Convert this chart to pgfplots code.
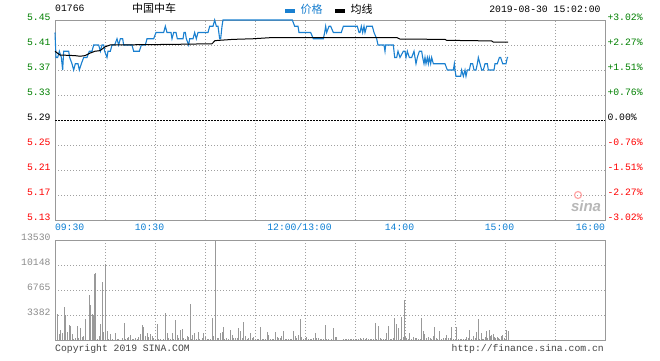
\documentclass[border=0pt]{standalone}
\usepackage{pgfplots}
\pgfplotsset{compat=1.18}
\usepackage{fontspec}
\setmainfont{Liberation Mono}
\newfontfamily\cjk{Noto Sans CJK SC}
\newfontfamily\sansf{Liberation Sans}
\definecolor{pblue}{HTML}{1A80D0}
\definecolor{tblue}{HTML}{0A7ED4}
\definecolor{pgreen}{HTML}{008000}
\definecolor{pred}{HTML}{FF0000}
\definecolor{framec}{HTML}{999999}
\definecolor{gridc}{HTML}{A0A0A0}
\definecolor{volc}{HTML}{999999}
\definecolor{vlab}{HTML}{8C8C8C}
\definecolor{copyc}{HTML}{444444}
\newcommand{\tf}{\fontsize{9.75}{11}\selectfont}
\pgfplotsset{
  chartbase/.style={
    scale only axis, width=550pt, anchor=south west,
    xmin=0, xmax=330,
    axis line style={framec, line width=1pt},
    major tick length=0pt, minor tick length=0pt,
    grid=both,
    major grid style={gridc, line width=0.8pt, dash pattern=on 1pt off 2pt},
    minor grid style={gridc, line width=0.8pt, dash pattern=on 1pt off 2pt},
    xtick={0,60,150,210,270,330},
    minor xtick={30,90,120,180,240,300},
    tick label style={font=\tf, inner sep=0pt},
    yticklabel style={anchor=base east, xshift=-4.3pt, yshift=-0.5pt},
    scaled y ticks=false,
    clip=false,
  }
}
\begin{document}
\begin{tikzpicture}
\useasboundingbox (0,0) rectangle (660pt,360pt);
\fill[white] (0,0) rectangle (660pt,360pt);
% price panel
\begin{axis}[chartbase, at={(55pt,140pt)}, height=200pt,
  ymin=5.13, ymax=5.45,
  ytick={5.13,5.17,5.21,5.25,5.29,5.33,5.37,5.41,5.45},
  yticklabels={\textcolor{pred}{5.13},\textcolor{pred}{5.17},\textcolor{pred}{5.21},\textcolor{pred}{5.25},5.29,\textcolor{pgreen}{5.33},\textcolor{pgreen}{5.37},\textcolor{pgreen}{5.41},\textcolor{pgreen}{5.45}},
  xticklabels={\makebox[0pt][l]{09:30},\makebox[0pt]{10:30\hspace{11pt}},\makebox[0pt]{12:00/13:00\hspace{11pt}},\makebox[0pt]{14:00\hspace{11pt}},\makebox[0pt]{15:00\hspace{11pt}},\makebox[0pt][r]{16:00}},
  xticklabel style={anchor=base, yshift=-10.5pt, text=tblue},
]
\addplot[black, line width=0.9pt, dash pattern=on 2pt off 1pt, no marks] coordinates {(0,5.29) (330,5.29)};
\addplot[pblue, line width=1.1pt, no marks] coordinates {
(0,5.43) (0.6,5.39) (1.6,5.39) (2.6,5.40) (3.8,5.39) (4.6,5.37) (5.2,5.40) (8.2,5.40) (8.8,5.39) (10.2,5.38) (11.2,5.37) (12.2,5.38) (13.8,5.38) (14.6,5.37) (15.8,5.38) (17.2,5.39) (19.2,5.39) (20.6,5.40) (22.2,5.40) (23.2,5.41) (26.2,5.41) (27.2,5.40) (28.2,5.41) (29.2,5.41) (29.8,5.40) (31.2,5.39) (31.8,5.40) (33.2,5.40) (34.2,5.41) (35.8,5.41) (37.2,5.42) (38.2,5.41) (39.2,5.42) (40.6,5.42) (41.2,5.41) (46.2,5.41) (47.2,5.40) (50.6,5.40) (51.8,5.41) (54.2,5.41) (55.2,5.42) (59.2,5.42) (60.6,5.43) (65.2,5.43) (66.2,5.44) (67.2,5.43) (69.6,5.43) (70.2,5.42) (71.2,5.43) (72.6,5.43) (73.4,5.42) (76.8,5.42) (77.4,5.43) (78.2,5.43) (78.8,5.42) (80.2,5.41) (80.8,5.42) (82.8,5.42) (83.8,5.43) (84.8,5.42) (85.8,5.43) (91.8,5.43) (92.8,5.44) (94.8,5.44) (95.8,5.45) (96.8,5.44) (97.8,5.44) (98.8,5.42) (99.4,5.42) (100.2,5.44) (100.8,5.45) (142.4,5.45) (143.8,5.44) (145.8,5.44) (146.4,5.43) (153.4,5.43) (155,5.42) (161,5.42) (161.8,5.43) (162.4,5.44) (163,5.43) (164.4,5.44) (165.4,5.44) (167,5.43) (171.8,5.43) (173,5.44) (181.4,5.44) (182.4,5.43) (183,5.43) (183.8,5.44) (184.6,5.43) (185.4,5.44) (186,5.43) (187,5.44) (190.4,5.44) (191.4,5.43) (193,5.42) (193.8,5.41) (197.4,5.41) (198,5.40) (198.4,5.41) (203,5.41) (203.8,5.39) (205,5.39) (205.8,5.40) (207,5.39) (209,5.40) (210,5.40) (210.6,5.39) (211.4,5.40) (212.6,5.39) (214,5.39) (215.4,5.40) (216,5.39) (216.6,5.38) (217.4,5.39) (218.6,5.40) (220,5.40) (220.6,5.39) (221.4,5.38) (222,5.39) (222.6,5.38) (223.4,5.39) (224,5.38) (224.6,5.39) (225.4,5.38) (226,5.39) (227,5.38) (234,5.38) (235.4,5.37) (239,5.37) (239.6,5.38) (240,5.37) (240.6,5.36) (243.4,5.36) (244,5.37) (245,5.36) (246,5.37) (246.6,5.36) (247.4,5.37) (248.6,5.37) (249.4,5.38) (250.6,5.38) (251.4,5.37) (252.6,5.37) (253.4,5.38) (254,5.39) (255,5.38) (256,5.37) (257,5.37) (258,5.38) (259.4,5.38) (260,5.37) (263.4,5.37) (264,5.38) (265.4,5.38) (266.6,5.39) (267.4,5.39) (268.6,5.38) (270.6,5.38) (271.4,5.39) (271.8,5.39)
};
\addplot[black, line width=1pt, no marks] coordinates {
(0,5.400) (1,5.398) (3,5.394) (12,5.393) (15,5.392) (18,5.393) (21,5.397) (24,5.400) (27,5.401) (30,5.407) (33,5.410) (70.8,5.411) (94.2,5.412) (96,5.417) (106.8,5.419) (118.8,5.420) (130.8,5.422) (205,5.422) (207,5.4195) (234,5.419) (235,5.4175) (262,5.4165) (263,5.4146) (271.8,5.4146)
};
\end{axis}
% right percent labels
\begin{axis}[scale only axis, width=550pt, height=200pt, anchor=south west, at={(55pt,140pt)},
  xmin=0, xmax=330, ymin=5.13, ymax=5.45, axis line style={draw=none},
  xtick=\empty, major tick length=0pt,
  ytick={5.13,5.17,5.21,5.25,5.29,5.33,5.37,5.41,5.45},
  yticklabel pos=right,
  yticklabels={\textcolor{pred}{-3.02\%},\textcolor{pred}{-2.27\%},\textcolor{pred}{-1.51\%},\textcolor{pred}{-0.76\%},0.00\%,\textcolor{pgreen}{+0.76\%},\textcolor{pgreen}{+1.51\%},\textcolor{pgreen}{+2.27\%},\textcolor{pgreen}{+3.02\%}},
  yticklabel style={font=\tf, inner sep=0pt, anchor=base west, xshift=2.3pt, yshift=-0.5pt},
]
\end{axis}
% volume panel
\begin{axis}[chartbase, at={(55pt,20pt)}, height=100pt,
  ymin=0, ymax=13530,
  ytick={0,3382,6765,10148,13530},
  yticklabels={,3382,6765,10148,13530},
  xticklabels={},
  yticklabel style={text=vlab},
]
\addplot[ycomb, volc, line width=1pt, no marks] coordinates {
(1.2,3470)(2.6,860)(3.2,1310)(4.2,900)(5.4,4460)(6.0,3340)(7.2,1080)(8.4,2070)(9.0,1890)(10.2,810)(11.2,180)(12.0,270)(13.2,1890)(14.2,315)(15.2,1620)(16.2,450)(17.2,540)(18.2,2800)(19.4,50)(20.6,6040)(21.2,4740)(22.2,3520)(22.8,3430)(23.6,8930)(24.2,9070)(25.4,90)(26.6,540)(27.2,2120)(28.4,7850)(29.2,1080)(30.2,10240)(31.2,1220)(32.2,90)(33.2,810)(34.2,90)(35.2,50)(36.2,950)(37.2,130)(38.2,130)(39.2,50)(40.2,270)(41.6,2250)(42.2,180)(43.2,270)(44.2,450)(45.2,680)(46.2,90)(47.2,130)(48.2,230)(49.2,130)(50.2,400)(51.2,810)(52.2,2030)(53.2,1800)(54.2,540)(55.2,950)(56.2,400)(57.2,810)(58.2,540)(59.2,270)(60.2,180)(61.4,2160)(62.2,90)(63.2,90)(64.2,50)(65.2,90)(66.2,3650)(67.2,950)(68.2,230)(69.2,180)(70.2,950)(71.2,180)(72.2,2700)(73.2,630)(74.2,270)(75.2,1350)(76.2,1440)(77.2,270)(78.2,90)(79.2,540)(79.8,450)(81.0,4870)(81.8,90)(82.6,720)(83.8,950)(84.8,90)(85.8,1080)(86.8,180)(88.2,230)(89.2,900)(90.2,450)(91.2,130)(92.2,130)(93.2,180)(94.2,2980)(95.0,540)(96.2,13530)(97.2,270)(98.2,270)(99.2,990)(100.2,1130)(100.8,1760)(101.8,180)(102.8,315)(103.8,180)(105.2,1310)(106.2,720)(107.2,270)(108.2,270)(109.2,315)(110.2,1620)(111.2,1170)(112.2,270)(113.0,2390)(114.0,540)(115.2,180)(116.2,315)(117.2,950)(118.2,270)(119.2,400)(120.2,180)(121.2,180)(122.2,90)(123.2,1760)(124.2,180)(125.2,180)(126.2,90)(127.2,1040)(127.8,630)(129.2,180)(130.2,180)(131.2,90)(132.2,1040)(133.2,400)(134.2,270)(135.0,270)(135.8,540)
(137,1170)(138,180)(139,90)(140,130)(141,90)(142,180)(143,1170)(144,540)(145,270)(146.2,630)(147.4,2840)(148,400)(149,180)(150,270)(151,400)(152,90)(153,180)(154,90)(155,230)(156.2,900)(157,270)(158,270)(159,90)(160,90)(161,180)(162.2,2030)(163,130)(164,130)(166,90)(167,1620)(168,400)(168.6,400)(170,50)(173,90)(174,90)(175,90)(176,90)(177,90)(178,130)(179,130)(180,130)(181,180)(182,130)(183,270)(184,180)(185,270)(186,180)(187,270)(188,180)(189,180)(190,180)(191,180)(192.2,2300)(193,180)(194,1890)(195,270)(196,180)(197,90)(198,90)(199,950)(200,1890)(201,180)(202,180)(203,270)(203.8,2980)(204.8,2160)(206,1620)(207,180)(208,3110)(209,450)(209.8,5410)(210.4,540)(211,270)(212,180)(212.8,950)(214,180)(215,400)(216,270)(217,270)(218,180)(219,180)(220,2980)(221,1170)(221.6,810)(223,270)(224,400)(225,230)(226,90)(227,540)(227.6,1760)(228.6,270)(229.4,180)(230.6,1170)(231.8,180)(233,270)(234,270)(235,720)(236,270)(237,270)(238,1760)(239,180)(240,180)(240.6,1760)(242,180)(243,90)(244,90)(245,180)(246,180)(247,400)(248,270)(248.6,1310)(250,180)(251,540)(252,270)(253,1040)(254.2,2840)(254.8,180)(255.7,950)(256.5,180)(257.3,180)(258.1,400)(258.9,1170)(259.7,270)(260.5,1310)(261.3,540)(262.1,630)(262.9,810)(263.7,400)(264.5,270)(265.3,400)(266.1,270)(266.9,180)(267.8,540)(268.6,630)(269.4,270)(271.0,1310)(271.8,1220)
};
\end{axis}
% header texts
\node[anchor=west, inner sep=0pt, font=\tf] at (55pt,351.5pt) {01766};
\node[inner sep=0pt, font=\cjk\fontsize{11}{12}\selectfont] at (154pt,351.5pt) {中国中车};
\fill[pblue] (285pt,347.5pt) rectangle (295pt,350.8pt);
\node[anchor=west, inner sep=0pt, text=pblue, font=\cjk\fontsize{11}{12}\selectfont] at (300.5pt,351pt) {价格};
\fill[black] (335pt,347.5pt) rectangle (345pt,350.8pt);
\node[anchor=west, inner sep=0pt, font=\cjk\fontsize{11}{12}\selectfont] at (350.5pt,351pt) {均线};
\node[anchor=east, inner sep=0pt, font=\tf] at (600.7pt,351pt) {2019-08-30 15:02:00};
% footer texts
\node[anchor=west, inner sep=0pt, font=\tf, text=copyc] at (55pt,10.7pt) {Copyright 2019 SINA.COM};
\node[anchor=east, inner sep=0pt, font=\tf, text=copyc] at (604pt,10.7pt) {http://finance.sina.com.cn};
% watermark
\draw[red!35, line width=1.2pt] (578pt,165pt) circle (3.5pt);
\node[inner sep=0pt, text=black!28, font=\sansf\bfseries\itshape\fontsize{15}{15}\selectfont] at (586pt,154pt) {sina};
\end{tikzpicture}
\end{document}
